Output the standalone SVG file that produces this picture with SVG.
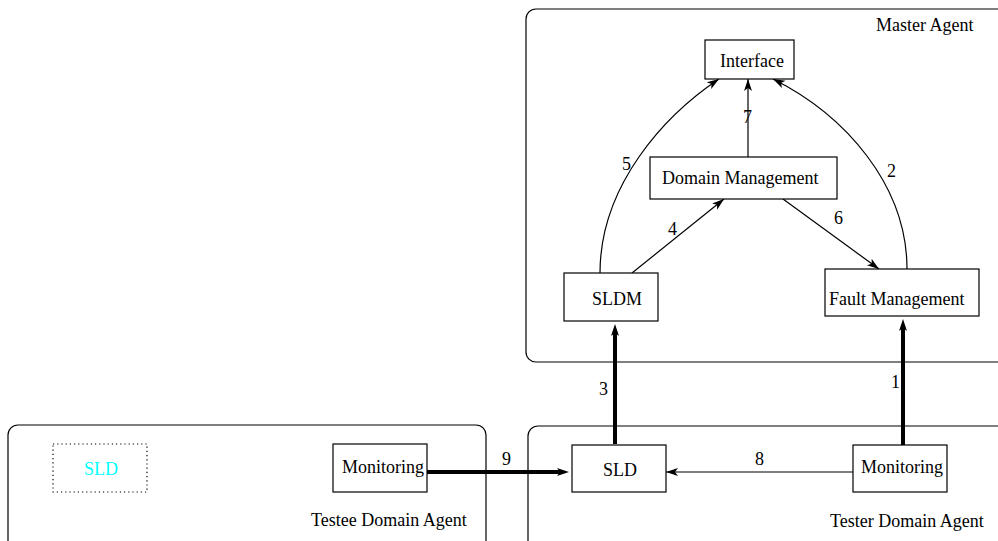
<svg xmlns="http://www.w3.org/2000/svg" width="998" height="541" viewBox="0 0 998 541">
  <style>
    text { font-family: "Liberation Serif", "Times New Roman", serif; font-size: 18px; fill: #000; }
    .box { fill: #fff; stroke: #000; stroke-width: 1.2; }
    .agent { fill: none; stroke: #000; stroke-width: 1.2; }
    .thin { fill: none; stroke: #000; stroke-width: 1.2; marker-end: url(#head); }
    .thick { fill: none; stroke: #000; stroke-width: 4; marker-end: url(#headThick); }
    .mid { text-anchor: middle; }
  </style>
  <defs>
    <marker id="head" markerUnits="userSpaceOnUse" markerWidth="14" markerHeight="10" refX="12" refY="4" orient="auto" overflow="visible">
      <path d="M0,0 L12,4 L0,8 L3,4 z" fill="#000"/>
    </marker>
    <marker id="headThick" markerUnits="userSpaceOnUse" markerWidth="14" markerHeight="10" refX="3" refY="4" orient="auto" overflow="visible">
      <path d="M0,0 L12,4 L0,8 L3,4 z" fill="#000"/>
    </marker>
  </defs>

  <!-- agent containers -->
  <g id="master-agent">
    <rect class="agent" x="526" y="9" width="490" height="353" rx="10"/>
    <text x="876" y="31">Master Agent</text>
  </g>
  <g id="tester-domain-agent">
    <rect class="agent" x="528" y="426" width="490" height="140" rx="10"/>
    <text x="830" y="527">Tester Domain Agent</text>
  </g>
  <g id="testee-domain-agent">
    <rect class="agent" x="8" y="425" width="478" height="140" rx="10"/>
    <text x="311" y="526">Testee Domain Agent</text>
  </g>

  <!-- connectors -->
  <g id="connectors">
    <path class="thin" d="M748,157 L748,79"/>
    <path class="thin" d="M600,273 C600,185 665,115 719,79"/>
    <path class="thin" d="M907,269 C907,185 845,115 773,79"/>
    <path class="thin" d="M632,273 L724,199"/>
    <path class="thin" d="M783,199 L879,269"/>
    <path class="thin" d="M853,472 L666,472"/>
    <path class="thick" d="M615,444 L615,333"/>
    <path class="thick" d="M903,445 L903,328"/>
    <path class="thick" d="M427,472 L560,472"/>
    <text x="743" y="123">7</text>
    <text x="622" y="170">5</text>
    <text x="887" y="177">2</text>
    <text x="668" y="235">4</text>
    <text x="834" y="224">6</text>
    <text x="599" y="395">3</text>
    <text x="891" y="388">1</text>
    <text x="755" y="465">8</text>
    <text x="502" y="465">9</text>
  </g>

  <!-- nodes -->
  <g id="interface">
    <rect class="box" x="705" y="40" width="89" height="39"/>
    <text x="720" y="67">Interface</text>
  </g>
  <g id="domain-management">
    <rect class="box" x="650" y="157" width="187" height="42"/>
    <text x="662" y="184">Domain Management</text>
  </g>
  <g id="sldm">
    <rect class="box" x="564" y="273" width="94" height="48"/>
    <text x="592" y="305">SLDM</text>
  </g>
  <g id="fault-management">
    <rect class="box" x="825" y="269" width="154" height="47"/>
    <text x="829" y="305">Fault Management</text>
  </g>
  <g id="sld">
    <rect class="box" x="572" y="445" width="94" height="47"/>
    <text class="mid" x="620" y="476">SLD</text>
  </g>
  <g id="tester-monitoring">
    <rect class="box" x="853" y="445" width="94" height="47"/>
    <text x="861" y="473">Monitoring</text>
  </g>
  <g id="testee-monitoring">
    <rect class="box" x="333" y="444" width="94" height="48"/>
    <text x="342" y="473">Monitoring</text>
  </g>
  <g id="testee-sld">
    <rect x="53" y="444" width="94" height="48" fill="none" stroke="#000" stroke-width="1.2" stroke-dasharray="1.2,3"/>
    <text class="mid" x="101" y="475" style="fill:#00ffff">SLD</text>
  </g>
</svg>
